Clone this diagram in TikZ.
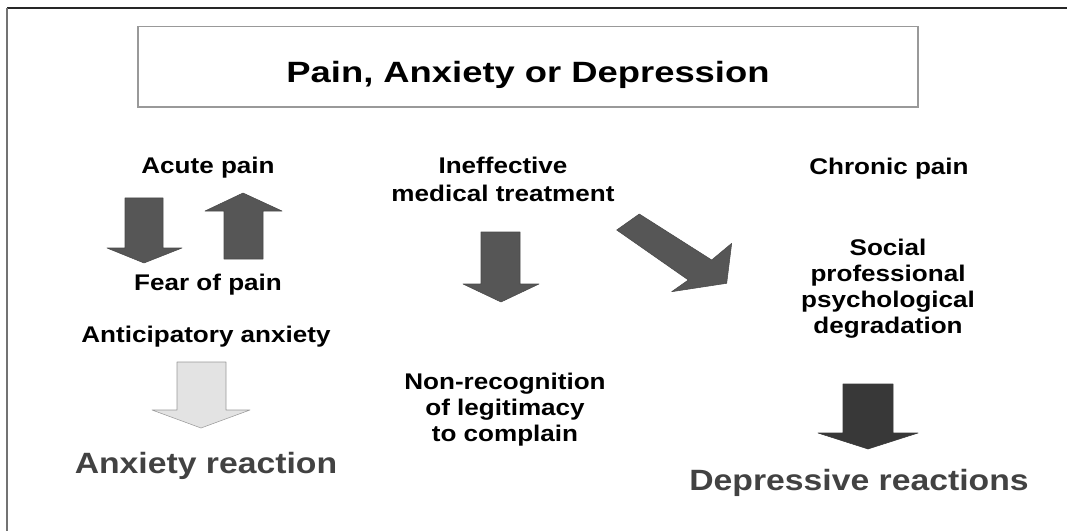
\documentclass[tikz,border=0pt]{standalone}
\usepackage{fontspec}
\newfontfamily\bodyfont{Liberation Sans}[FakeStretch=1.15]
\newfontfamily\titlefont{Liberation Sans}[FakeStretch=1.24]
\definecolor{arrowgray}{HTML}{565656}
\definecolor{arrowdark}{HTML}{383838}
\definecolor{arrowlight}{HTML}{E3E3E3}
\definecolor{resultgray}{HTML}{424242}
\tikzset{
  labeltext/.style={font=\bodyfont\bfseries\fontsize{17}{19.5}\selectfont, align=center, anchor=base, inner sep=0pt},
  resulttext/.style={font=\bodyfont\bfseries\fontsize{22}{26}\selectfont, text=resultgray, anchor=base, inner sep=0pt},
  block/.style={fill=arrowgray, draw=arrowgray!85!black, line width=0.4pt, line join=round}
}
\begin{document}
\begin{tikzpicture}[x=0.75pt,y=-0.75pt]
        \useasboundingbox (0,0) rectangle (1067,531);
        \draw[line width=1.3pt, black!85] (7,8) -- (1067,8);
        \draw[line width=1.6pt, black!55] (7,8) -- (7,531);
        \node[draw=black!40, line width=1pt, inner sep=0pt, minimum width=585pt, text height=42.5pt, text depth=18pt, anchor=base, font=\titlefont\bfseries\fontsize{22}{25}\selectfont] (title) at (528,83) {Pain, Anxiety or Depression};
        \node[labeltext] (acute) at (208,174) {Acute pain};
        \node[labeltext] (fear) at (208,290) {Fear of pain};
        \node[labeltext] (anticip) at (206,342) {Anticipatory anxiety};
        \node[resulttext] (anxreact) at (206,473) {Anxiety reaction};
        \node[labeltext, font=\bodyfont\bfseries\fontsize{17}{20.5}\selectfont] (ineff) at (503,201) {Ineffective\\medical treatment};
        \node[labeltext] (nonrecog) at (505,441) {Non-recognition\\of legitimacy\\to complain};
        \node[labeltext] (chronic) at (889,175) {Chronic pain};
        \node[labeltext] (degrad) at (888,333) {Social\\professional\\psychological\\degradation};
        \node[resulttext] (depreact) at (859,490) {Depressive reactions};
        \filldraw[block] (125,198) -- (163,198) -- (163,248) -- (182,248) -- (144,263) -- (107,248) -- (125,248) -- cycle;
        \filldraw[block] (224,259) -- (263,259) -- (263,211) -- (282,211) -- (243,193) -- (205,211) -- (224,211) -- cycle;
        \filldraw[block, fill=arrowlight, draw=black!40] (177,362) -- (226,362) -- (226,410) -- (250,410) -- (201,428) -- (152,410) -- (177,410) -- cycle;
        \filldraw[block] (481,232) -- (520,232) -- (520,284) -- (539,284) -- (501,302) -- (463,284) -- (481,284) -- cycle;
        \filldraw[block] (616.7,230) -- (639.3,214) -- (711.7,260) -- (731.7,243.3) -- (726.7,283.3) -- (671.7,291.7) -- (688.3,280) -- cycle;
        \filldraw[block, fill=arrowdark, draw=arrowdark] (843,384) -- (893,384) -- (893,433) -- (918,433) -- (868,449) -- (818,433) -- (843,433) -- cycle;
\end{tikzpicture}
\end{document}
